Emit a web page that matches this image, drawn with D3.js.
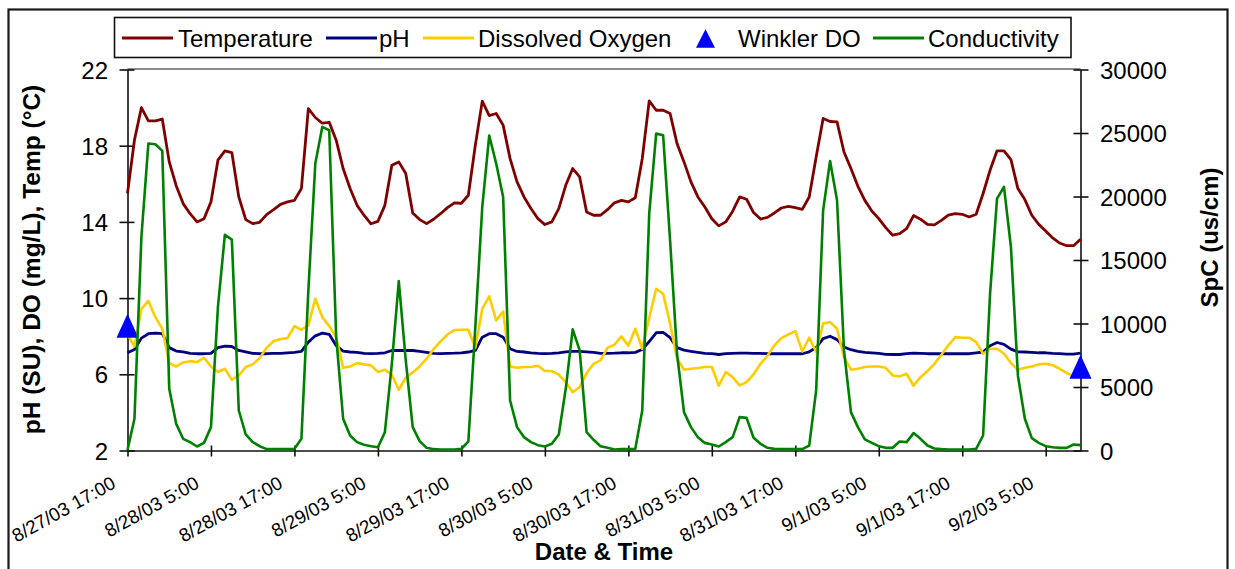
<!DOCTYPE html>
<html>
<head>
<meta charset="utf-8">
<script src="https://cdn.jsdelivr.net/npm/d3@7"></script>
<style>
    body { margin: 0; background: #fff; }
    svg text { font-family: "Liberation Sans", Arial, sans-serif; fill: #000; }
</style>
</head>
<body>
<svg id="chart"></svg>
<script>
// readings are hourly, starting 8/27/03 17:00
var startTime = new Date(2003, 7, 27, 17, 0);
var endTime = new Date(2003, 8, 2, 10, 0);

var temperature = [
    15.5, 18.3, 20.0, 19.3, 19.3, 19.4, 17.15, 15.9, 14.96, 14.43,
    14.0, 14.17, 15.05, 17.24, 17.73, 17.64, 15.31, 14.12, 13.91, 13.98,
    14.38, 14.64, 14.92, 15.05, 15.13, 15.75, 19.95, 19.48, 19.18, 19.23,
    18.29, 16.8, 15.75, 14.87, 14.35, 13.9, 14.03, 14.87, 16.97, 17.15,
    16.54, 14.47, 14.12, 13.91, 14.14, 14.43, 14.75, 15.0, 14.98, 15.4,
    18.02, 20.34, 19.58, 19.69, 19.08, 17.32, 16.1, 15.31, 14.7, 14.17,
    13.86, 14.0, 14.7, 15.92, 16.8, 16.36, 14.52, 14.35, 14.35, 14.64,
    15.0, 15.13, 15.05, 15.27, 17.32, 20.35, 19.86, 19.86, 19.69, 18.11,
    17.15, 16.1, 15.31, 14.78, 14.17, 13.79, 14.0, 14.56, 15.31, 15.19,
    14.49, 14.15, 14.24, 14.47, 14.73, 14.82, 14.75, 14.66, 15.31, 17.41,
    19.43, 19.27, 19.25, 17.67, 16.8, 15.87, 15.13, 14.57, 14.17, 13.7,
    13.3, 13.38, 13.65, 14.33, 14.14, 13.87, 13.84, 14.08, 14.35, 14.43,
    14.4, 14.26, 14.4, 15.49, 16.71, 17.73, 17.73, 17.27, 15.75, 15.17,
    14.35, 13.87, 13.52, 13.16, 12.89, 12.75, 12.75, 13.09
];

var ph = [
    7.13, 7.3, 7.9, 8.13, 8.16, 8.13, 7.4, 7.22, 7.18, 7.1,
    7.08, 7.08, 7.1, 7.4, 7.48, 7.46, 7.25, 7.18, 7.1, 7.08,
    7.08, 7.1, 7.1, 7.13, 7.15, 7.2, 7.69, 8.02, 8.16, 8.1,
    7.5, 7.22, 7.17, 7.15, 7.1, 7.08, 7.1, 7.13, 7.25, 7.25,
    7.25, 7.25, 7.2, 7.15, 7.1, 7.08, 7.1, 7.11, 7.13, 7.17,
    7.25, 7.95, 8.13, 8.13, 7.95, 7.34, 7.2, 7.17, 7.13, 7.1,
    7.08, 7.1, 7.13, 7.18, 7.2, 7.2, 7.18, 7.15, 7.1, 7.1,
    7.11, 7.13, 7.13, 7.15, 7.3, 7.72, 8.18, 8.2, 7.92, 7.4,
    7.27, 7.2, 7.15, 7.1, 7.08, 7.04, 7.08, 7.1, 7.11, 7.11,
    7.1, 7.1, 7.08, 7.08, 7.08, 7.08, 7.08, 7.08, 7.18, 7.4,
    7.87, 8.0, 7.82, 7.43, 7.29, 7.2, 7.15, 7.13, 7.1, 7.05,
    7.04, 7.04, 7.08, 7.11, 7.1, 7.08, 7.08, 7.08, 7.08, 7.08,
    7.08, 7.08, 7.13, 7.17, 7.5, 7.67, 7.57, 7.32, 7.18, 7.17,
    7.15, 7.13, 7.13, 7.1, 7.08, 7.06, 7.06, 7.11
];

var dissolvedOxygen = [
    8.1, 7.46, 9.44, 9.85, 9.0, 8.39, 6.59, 6.41, 6.62, 6.69,
    6.64, 6.87, 6.41, 6.12, 6.29, 5.71, 5.94, 6.38, 6.52, 6.85,
    7.39, 7.74, 7.85, 7.9, 8.53, 8.34, 8.57, 9.97, 9.0, 8.53,
    7.95, 6.34, 6.41, 6.59, 6.52, 6.47, 6.12, 6.24, 5.98, 5.19,
    5.82, 6.1, 6.41, 6.82, 7.32, 7.73, 8.09, 8.32, 8.34, 8.34,
    7.39, 9.44, 10.09, 8.83, 9.3, 6.41, 6.34, 6.38, 6.38, 6.45,
    6.17, 6.17, 5.98, 5.59, 5.06, 5.33, 6.06, 6.55, 6.73, 7.39,
    7.55, 7.99, 7.5, 8.39, 7.34, 8.97, 10.49, 10.23, 8.66, 6.82,
    6.24, 6.29, 6.33, 6.38, 6.38, 5.4, 6.12, 5.85, 5.42, 5.59,
    6.0, 6.55, 6.97, 7.52, 7.9, 8.09, 8.27, 7.2, 7.92, 7.17,
    8.66, 8.74, 8.39, 6.9, 6.24, 6.29, 6.38, 6.41, 6.41, 6.34,
    5.94, 5.89, 6.03, 5.4, 5.85, 6.17, 6.55, 7.03, 7.52, 7.95,
    7.92, 7.92, 7.69, 7.08, 7.34, 7.34, 7.08, 6.59, 6.24, 6.34,
    6.41, 6.52, 6.55, 6.48, 6.29, 6.08, 5.89
];

var conductivity = [
    50, 2500, 16810, 24170, 24110, 23590, 4860, 2100, 920, 660,
    315, 600, 1840, 11300, 16990, 16600, 3150, 1260, 660, 340,
    105, 105, 105, 105, 130, 920, 12610, 22590, 25480, 25220,
    8930, 2500, 1180, 660, 450, 340, 260, 1440, 6830, 13340,
    7090, 1840, 735, 210, 105, 80, 80, 80, 130, 710,
    9720, 19170, 24800, 22590, 19960, 3940, 1840, 1050, 660, 420,
    315, 525, 1260, 4860, 9540, 7880, 1440, 840, 340, 210,
    80, 105, 105, 130, 3150, 18650, 24950, 24820, 16550, 7620,
    3020, 1840, 1050, 600, 470, 315, 660, 1050, 2630, 2570,
    1000, 525, 210, 130, 105, 105, 105, 105, 390, 4730,
    18910, 22800, 19700, 7880, 3020, 1840, 870, 600, 340, 210,
    210, 710, 660, 1370, 920, 390, 160, 105, 80, 80,
    80, 80, 130, 1180, 12350, 19830, 20750, 16020, 5910, 2500,
    970, 600, 340, 260, 210, 210, 470, 420
];

// Winkler titration samples (hours after start, mg/L)
var winklerHours = [0, 137];
var winklerDO = [8.55, 6.4];

var leftTicks = [2, 6, 10, 14, 18, 22];
var rightTicks = [0, 5000, 10000, 15000, 20000, 25000, 30000];
var xTickHours = [0, 12, 24, 36, 48, 60, 72, 84, 96, 108, 120, 132];

var seriesNames = ['Temperature', 'pH', 'Dissolved Oxygen', 'Winkler DO', 'Conductivity'];

var colors = {
    'Temperature': '#800000',
    'pH': '#000080',
    'Dissolved Oxygen': '#ffcc00',
    'Winkler DO': '#0000ff',
    'Conductivity': '#008000'
};

var width = 1235;
var height = 569;
var plot = {left: 127.5, right: 1080.5, top: 69.5, bottom: 450.5};

var svg = d3.select('#chart')
    .attr('width', width)
    .attr('height', height);

// outer chart border (bottom edge runs off the picture)
svg.append('rect')
    .attr('x', 8.5).attr('y', 9.5)
    .attr('width', 1219).attr('height', 620)
    .attr('fill', '#fff')
    .attr('stroke', '#1a1a1a')
    .attr('stroke-width', 2.2);

var x = d3.scaleTime()
    .domain([startTime, endTime])
    .range([plot.left, plot.right]);

var yLeft = d3.scaleLinear()
    .domain([2, 22])
    .range([plot.bottom, plot.top]);

var yRight = d3.scaleLinear()
    .domain([0, 30000])
    .range([plot.bottom, plot.top]);

function timeAt(h) {
    return d3.timeHour.offset(startTime, h);
}

// plot area top edge
svg.append('line')
    .attr('x1', plot.left).attr('x2', plot.right)
    .attr('y1', plot.top - 0.5).attr('y2', plot.top - 0.5)
    .attr('stroke', '#8c8c8c')
    .attr('stroke-width', 2);

var fmt = d3.timeFormat('%-m/%-d/%y %-H:%M');

var xAxis = svg.append('g')
    .attr('transform', `translate(0,${plot.bottom})`)
    .call(d3.axisBottom(x)
        .tickValues(xTickHours.map(timeAt))
        .tickFormat(fmt)
        .tickSizeInner(6)
        .tickSizeOuter(0));
xAxis.selectAll('.tick line').attr('y1', -5);
xAxis.selectAll('.tick text')
    .attr('x', 0).attr('y', 0).attr('dy', 0)
    .attr('text-anchor', 'end')
    .attr('font-size', '18.8px')
    .attr('transform', 'translate(-11,36.5) rotate(-29)');

var leftAxis = svg.append('g')
    .attr('transform', `translate(${plot.left},0)`)
    .call(d3.axisLeft(yLeft)
        .tickValues(leftTicks)
        .tickSizeInner(8)
        .tickSizeOuter(0)
        .tickPadding(11.5));
leftAxis.selectAll('.tick line').attr('x1', 7);
leftAxis.selectAll('.tick text')
    .attr('dy', '0.36em')
    .attr('font-size', '24px');

var rightAxis = svg.append('g')
    .attr('transform', `translate(${plot.right},0)`)
    .call(d3.axisRight(yRight)
        .tickValues(rightTicks)
        .tickSizeInner(8)
        .tickSizeOuter(0)
        .tickPadding(11.5)
        .tickFormat(d3.format('d')));
rightAxis.selectAll('.tick line').attr('x1', -7);
rightAxis.selectAll('.tick text')
    .attr('dy', '0.36em')
    .attr('font-size', '24px');

svg.selectAll('.domain, .tick line')
    .attr('stroke', '#111')
    .attr('stroke-width', 1.6);

// axis titles
svg.append('text')
    .attr('transform', 'translate(39.5,259.5) rotate(-90)')
    .attr('text-anchor', 'middle')
    .attr('font-size', '24.5px')
    .attr('font-weight', 'bold')
    .text('pH (SU), DO (mg/L), Temp (°C)');

svg.append('text')
    .attr('transform', 'translate(1217.5,237.5) rotate(-90)')
    .attr('text-anchor', 'middle')
    .attr('font-size', '24px')
    .attr('font-weight', 'bold')
    .text('SpC (us/cm)');

svg.append('text')
    .attr('x', 604).attr('y', 560)
    .attr('text-anchor', 'middle')
    .attr('font-size', '24px')
    .attr('font-weight', 'bold')
    .text('Date & Time');

// series
var leftLine = d3.line()
    .x(function(d, i) { return x(timeAt(i)); })
    .y(function(d) { return yLeft(d); });

var rightLine = d3.line()
    .x(function(d, i) { return x(timeAt(i)); })
    .y(function(d) { return yRight(d); });

var series = [
    {name: 'Temperature', values: temperature, line: leftLine, w: 2.8},
    {name: 'pH', values: ph, line: leftLine, w: 2.8},
    {name: 'Dissolved Oxygen', values: dissolvedOxygen, line: leftLine, w: 2.6}
];

series.forEach(function(s) {
    svg.append('path')
        .datum(s.values)
        .attr('d', s.line)
        .attr('fill', 'none')
        .attr('stroke', colors[s.name])
        .attr('stroke-width', s.w)
        .attr('stroke-linejoin', 'round');
});

function triangle(w, h) {
    return `M0,${-h / 2}L${w / 2},${h / 2}L${-w / 2},${h / 2}Z`;
}

svg.append('g')
    .selectAll('path')
    .data(winklerHours.map(function(h, i) { return {t: timeAt(h), v: winklerDO[i]}; }))
    .enter().append('path')
    .attr('transform', function(d) { return `translate(${x(d.t)},${yLeft(d.v)})`; })
    .attr('d', triangle(22, 24))
    .attr('fill', colors['Winkler DO']);

svg.append('path')
    .datum(conductivity)
    .attr('d', rightLine)
    .attr('fill', 'none')
    .attr('stroke', colors['Conductivity'])
    .attr('stroke-width', 2.6)
    .attr('stroke-linejoin', 'round');

// legend
var legend = svg.append('g');
legend.append('rect')
    .attr('x', 114.5).attr('y', 17.5)
    .attr('width', 956.5).attr('height', 40)
    .attr('fill', '#fff')
    .attr('stroke', '#111')
    .attr('stroke-width', 1.6);

var legendX = [122, 326, 423, 696, 873];
var legendTextX = [178, 379, 478, 738, 928];

seriesNames.forEach(function(name, i) {
    if (name === 'Winkler DO') {
        legend.append('path')
            .attr('transform', `translate(${legendX[i] + 9.5},38.5)`)
            .attr('d', triangle(19, 18.5))
            .attr('fill', colors[name]);
    } else {
        legend.append('line')
            .attr('x1', legendX[i]).attr('x2', legendX[i] + 51)
            .attr('y1', 38).attr('y2', 38)
            .attr('stroke', colors[name])
            .attr('stroke-width', 3);
    }
    legend.append('text')
        .attr('x', legendTextX[i]).attr('y', 47)
        .attr('font-size', '24px')
        .text(name);
});
</script>
</body>
</html>
